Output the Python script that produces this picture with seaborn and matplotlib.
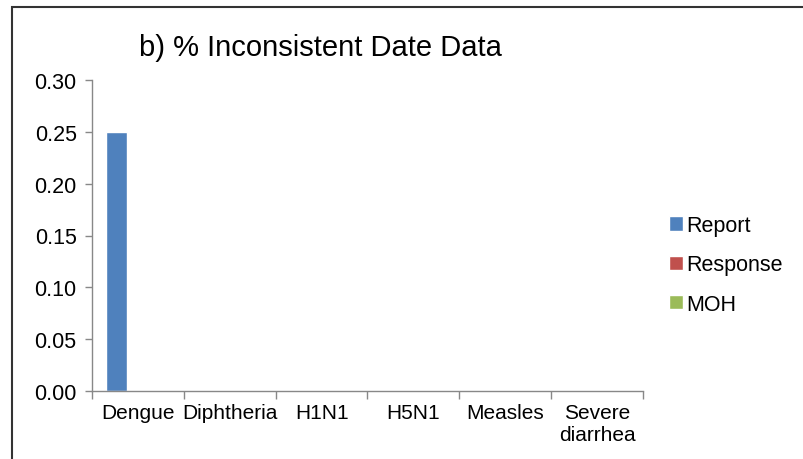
import numpy as np
import pandas as pd
import seaborn as sns
import matplotlib.pyplot as plt
from matplotlib.patches import Rectangle

categorias = ["Dengue", "Diphtheria", "H1N1", "H5N1", "Measles", "Severe\ndiarrhea"]
report = [0.25, 0.0, 0.0, 0.0, 0.0, 0.0]
response = [0.0, 0.0, 0.0, 0.0, 0.0, 0.0]
moh = [0.0, 0.0, 0.0, 0.0, 0.0, 0.0]
series = ["Report", "Response", "MOH"]
cores = ["#4F81BD", "#C0504D", "#9BBB59"]
y_ticks = [0.00, 0.05, 0.10, 0.15, 0.20, 0.25, 0.30]

linhas = []
for nome, valores in zip(series, [report, response, moh]):
    for cat, v in zip(categorias, valores):
        linhas.append({"Doenca": cat, "Serie": nome, "Valor": v})
df = pd.DataFrame(linhas)

sns.set_theme(style="white")
plt.rcParams["font.family"] = ["Liberation Sans", "DejaVu Sans"]
plt.rcParams["text.color"] = "black"
plt.rcParams["xtick.color"] = "black"
plt.rcParams["ytick.color"] = "black"

fig = plt.figure(figsize=(8.04, 4.6), dpi=100)
ax = fig.add_axes([92 / 804, 1 - 392 / 460, (643 - 92) / 804, (392 - 81) / 460])

sns.barplot(data=df, x="Doenca", y="Valor", hue="Serie", palette=cores,
            width=0.69, ax=ax, saturation=1, legend=True)

ax.set_ylim(0, 0.30)
ax.set_xlim(-0.5, len(categorias) - 0.5)
ax.set_yticks(y_ticks)
ax.set_yticklabels([f"{t:.2f}" for t in y_ticks], fontsize=15.5)
ax.set_xticks(range(len(categorias)))
ax.set_xticklabels(categorias, fontsize=15, linespacing=1.15)
ax.set_xticks(np.arange(-0.5, len(categorias)), minor=True)
ax.tick_params(axis="x", which="major", length=0, pad=9)
ax.tick_params(axis="x", which="minor", length=6, color="#888888", width=1, direction="out", bottom=True)
ax.tick_params(axis="y", length=5, color="#888888", labelcolor="black", width=1, direction="out", left=True, pad=6)
ax.tick_params(axis="x", labelcolor="black")
ax.set_xlabel("")
ax.set_ylabel("")
for lado in ["top", "right"]:
    ax.spines[lado].set_visible(False)
for lado in ["left", "bottom"]:
    ax.spines[lado].set_color("#888888")
    ax.spines[lado].set_linewidth(1)

handles, labels = ax.get_legend_handles_labels()
ax.legend(handles, labels, loc="center left", bbox_to_anchor=(650 / 804, 1 - 266 / 460),
          bbox_transform=fig.transFigure, frameon=False, fontsize=15.5,
          handlelength=0.65, handleheight=0.65, handletextpad=0.15, labelspacing=0.85)

fig.text(320 / 804, 1 - 48 / 460, "b) % Inconsistent Date Data", ha="center", va="center", fontsize=21)

fig.patches.append(Rectangle((12 / 804, -0.1), 1.2, 1.1 - 8 / 460, transform=fig.transFigure,
                             fill=False, edgecolor="#333333", linewidth=1.5))

fig.savefig("out.png", dpi=100)
